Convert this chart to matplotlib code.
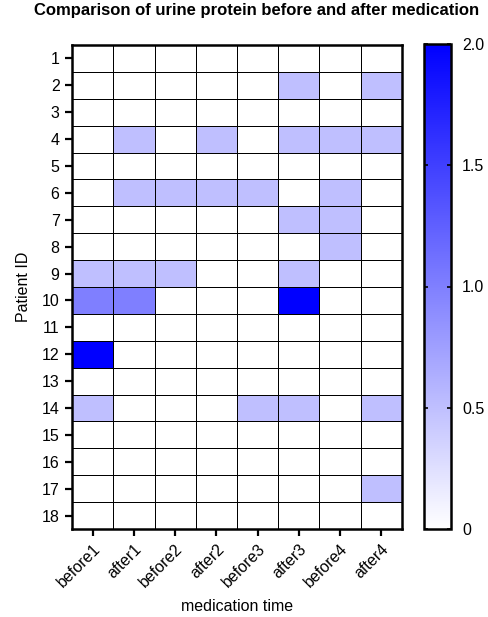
import numpy as np
import matplotlib.pyplot as plt
from matplotlib.colors import LinearSegmentedColormap

plt.rcParams['font.family'] = ['Liberation Sans', 'DejaVu Sans']

# medication time points (columns) and patients (rows)
times = ['before1', 'after1', 'before2', 'after2', 'before3', 'after3', 'before4', 'after4']
patients = [str(i) for i in range(1, 19)]

# urine protein per patient, same order as times
p1 = [0, 0, 0, 0, 0, 0, 0, 0]
p2 = [0, 0, 0, 0, 0, 0.5, 0, 0.5]
p3 = [0, 0, 0, 0, 0, 0, 0, 0]
p4 = [0, 0.5, 0, 0.5, 0, 0.5, 0.5, 0.5]
p5 = [0, 0, 0, 0, 0, 0, 0, 0]
p6 = [0, 0.5, 0.5, 0.5, 0.5, 0, 0.5, 0]
p7 = [0, 0, 0, 0, 0, 0.5, 0.5, 0]
p8 = [0, 0, 0, 0, 0, 0, 0.5, 0]
p9 = [0.5, 0.5, 0.5, 0, 0, 0.5, 0, 0]
p10 = [1.0, 1.0, 0, 0, 0, 2.0, 0, 0]
p11 = [0, 0, 0, 0, 0, 0, 0, 0]
p12 = [2.0, 0, 0, 0, 0, 0, 0, 0]
p13 = [0, 0, 0, 0, 0, 0, 0, 0]
p14 = [0.5, 0, 0, 0, 0.5, 0.5, 0, 0.5]
p15 = [0, 0, 0, 0, 0, 0, 0, 0]
p16 = [0, 0, 0, 0, 0, 0, 0, 0]
p17 = [0, 0, 0, 0, 0, 0, 0, 0.5]
p18 = [0, 0, 0, 0, 0, 0, 0, 0]

data = np.array([p1, p2, p3, p4, p5, p6, p7, p8, p9, p10,
                 p11, p12, p13, p14, p15, p16, p17, p18])

cmap = LinearSegmentedColormap.from_list('wb', ['#ffffff', '#0000ff'])

fig = plt.figure(figsize=(4.89, 6.17), dpi=100)
ax = fig.add_axes([72 / 489, 1 - 529 / 617, 330 / 489, 484 / 617])
cax = fig.add_axes([424 / 489, 1 - 529 / 617, 27 / 489, 485 / 617])

mesh = ax.pcolormesh(data, cmap=cmap, vmin=0, vmax=2, edgecolors='black', linewidth=0.62)
ax.set_xlim(0, len(times))
ax.set_ylim(len(patients), 0)

ax.set_xticks(np.arange(len(times)) + 0.5)
ax.set_xticklabels(times, rotation=45, ha='right', rotation_mode='anchor', fontsize=11.5)
ax.set_yticks(np.arange(len(patients)) + 0.5)
ax.set_yticklabels(patients, fontsize=11.5)
ax.tick_params(width=1.6, length=5, pad=4)
for s in ax.spines.values():
    s.set_linewidth(1.8)

ax.set_xlabel('medication time', fontsize=11.5, labelpad=6)
ax.set_ylabel('Patient ID', fontsize=11.5, labelpad=8)
fig.suptitle('Comparison of urine protein before and after medication',
             fontsize=12, fontweight='bold', x=0.525, y=0.995)

cb = fig.colorbar(mesh, cax=cax)
cb.set_ticks([0, 0.5, 1.0, 1.5, 2.0])
cb.set_ticklabels(['0', '0.5', '1.0', '1.5', '2.0'])
cb.ax.tick_params(labelsize=11.5, width=1.2, length=3, direction='in', left=True, right=True, pad=8)
cb.outline.set_linewidth(1.8)

fig.savefig('out.png', dpi=100)
